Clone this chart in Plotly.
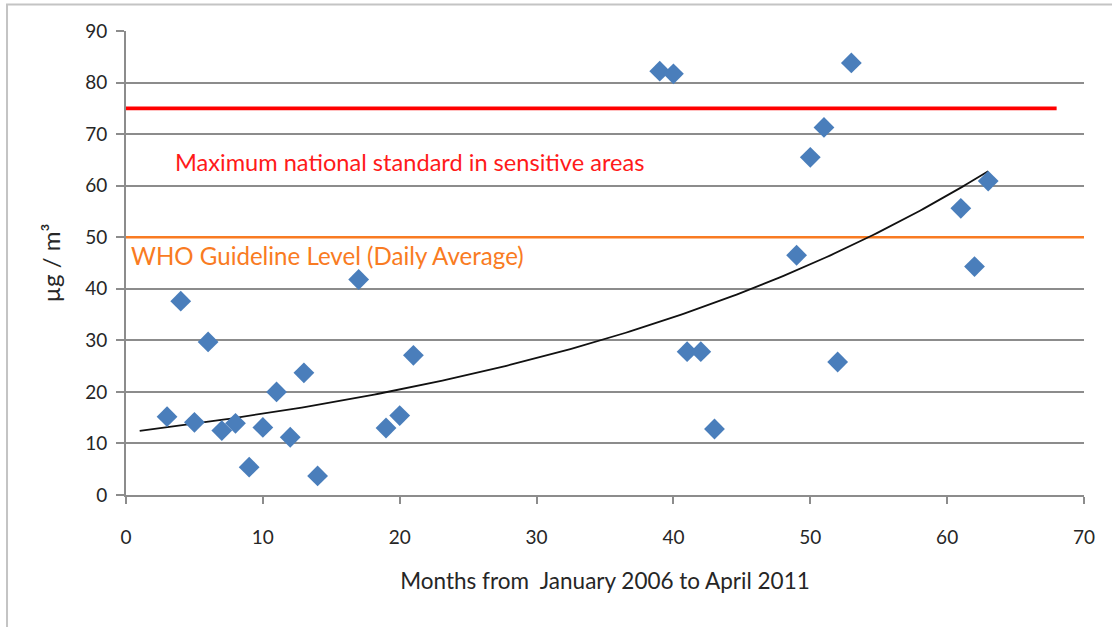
import numpy as np
import plotly.graph_objects as go

# Data
months = [3, 4, 5, 6, 7, 8, 9, 10, 11, 12, 13, 14, 17, 19, 20, 21,
          39, 40, 41, 42, 43, 49, 50, 51, 52, 53, 61, 62, 63]
pm_values = [15.2, 37.6, 14.1, 29.7, 12.5, 13.9, 5.4, 13.1, 20.0, 11.2, 23.7, 3.7,
             41.8, 13.0, 15.4, 27.1, 82.2, 81.7, 27.8, 27.8, 12.8, 46.5, 65.5,
             71.3, 25.8, 83.8, 55.6, 44.3, 60.9]

national_std_x = [0, 68]
national_std_y = [75, 75]
who_x = [0, 70]
who_y = [50, 50]

trend_range = [1, 63]

x_ticks = [0, 10, 20, 30, 40, 50, 60, 70]
y_ticks = [0, 10, 20, 30, 40, 50, 60, 70, 80, 90]

national_label = "Maximum national standard in sensitive areas"
who_label = "WHO Guideline Level (Daily Average)"
x_title = "Months from  January 2006 to April 2011"
y_title = "µg / m³"

# Exponential trendline (least squares on ln y, as in Excel)
b, ln_a = np.polyfit(np.array(months, float), np.log(np.array(pm_values, float)), 1)
tx = np.linspace(trend_range[0], trend_range[1], 200)
ty = np.exp(ln_a) * np.exp(b * tx)

FONT = "Lato"
fig = go.Figure()

fig.add_trace(go.Scatter(x=national_std_x, y=national_std_y, mode="lines",
                         line=dict(color="#FF0000", width=3.8), hoverinfo="skip"))
fig.add_trace(go.Scatter(x=who_x, y=who_y, mode="lines",
                         line=dict(color="#F97B22", width=2.4), hoverinfo="skip"))
fig.add_trace(go.Scatter(x=tx, y=ty, mode="lines",
                         line=dict(color="#111111", width=1.8), hoverinfo="skip"))
fig.add_trace(go.Scatter(x=months, y=pm_values, mode="markers",
                         marker=dict(symbol="diamond", size=16, color="#4A7EBB")))

fig.add_annotation(x=3.4, y=64.6, text=national_label, showarrow=False,
                   xanchor="left", yanchor="middle",
                   font=dict(family=FONT, size=23.6, color="#FF1A1A"))
fig.add_annotation(x=0.2, y=46.4, text=who_label, showarrow=False,
                   xanchor="left", yanchor="middle",
                   font=dict(family=FONT, size=24.1, color="#F97B22"))

# outer frame
fig.add_shape(type="rect", xref="paper", yref="paper",
              x0=-0.1242, x1=1.2, y0=-0.5, y1=1.0572,
              line=dict(color="#C4C4C4", width=2), layer="below")

fig.update_layout(
    width=1112, height=627,
    margin=dict(l=126, r=28, t=31, b=132),
    plot_bgcolor="white", paper_bgcolor="white",
    showlegend=False,
    font=dict(family=FONT, size=19, color="#262626"),
)
fig.update_xaxes(range=[0, 70], tickvals=x_ticks, showgrid=False,
                 showline=True, linecolor="#8C8C8C", linewidth=2,
                 ticks="outside", ticklen=7, tickcolor="#8C8C8C", tickwidth=2,
                 ticklabelstandoff=17, zeroline=False,
                 title=dict(text=x_title, standoff=26, font=dict(size=22.5)))
fig.update_yaxes(range=[0, 90], tickvals=y_ticks, showgrid=True,
                 gridcolor="#8C8C8C", gridwidth=1.8,
                 showline=True, linecolor="#8C8C8C", linewidth=2,
                 ticks="outside", ticklen=8, tickcolor="#8C8C8C", tickwidth=2,
                 ticklabelstandoff=5, zeroline=False,
                 title=dict(text=y_title, standoff=18, font=dict(size=24)))

fig.write_html("out.html", config={"displayModeBar": False},
               post_script="document.body.style.margin='0';")
